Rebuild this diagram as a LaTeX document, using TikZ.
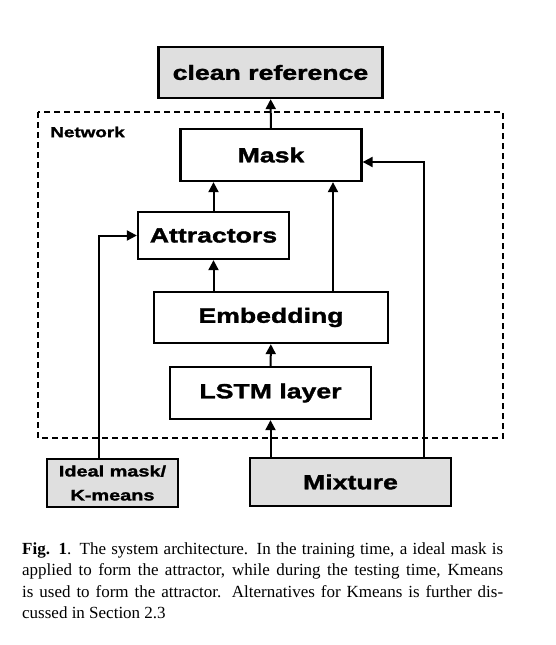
\documentclass[tikz,border=0pt]{standalone}
\usepackage{fontspec}
\setmainfont{Liberation Serif}
\newfontfamily\blockfont[FakeStretch=1.3,FakeBold=1.6]{Liberation Sans}
\usetikzlibrary{arrows.meta}

\begin{document}
\begin{tikzpicture}[x=1pt,y=-1pt,
  block/.style={draw=black, line width=2.3pt, fill=white, inner sep=0pt,
    font=\blockfont\bfseries\fontsize{20.5}{24}\selectfont},
  io/.style={block, fill=gray!25},
  arr/.style={line width=2pt, -{Triangle[length=10pt,width=10pt]}}]

\useasboundingbox (0,0) rectangle (555,645);

% Network frame
\draw[line width=2pt, dash pattern=on 6pt off 4pt] (38,112) rectangle (503,438);
\node[font=\blockfont\bfseries\fontsize{14.5}{17}\selectfont] (net) at (87.5,132) {Network};

% Blocks
\node[io, minimum width=224pt, minimum height=51pt] (ref) at (270.5,72.5) {clean reference};
\node[block, minimum width=181pt, minimum height=52pt] (mask) at (271,155) {Mask};
\node[block, minimum width=151pt, minimum height=47pt] (attr) at (213.5,235.5) {Attractors};
\node[block, minimum width=234pt, minimum height=51pt] (emb) at (271,317.5) {Embedding};
\node[block, minimum width=201pt, minimum height=52pt] (lstm) at (270.5,393) {LSTM layer};

% Inputs
\node[io, minimum width=131pt, minimum height=48pt, align=center,
  font=\blockfont\bfseries\fontsize{15.3}{24}\selectfont] (ideal) at (112.5,483) {Ideal mask/\\K-means};
\node[io, minimum width=201pt, minimum height=48pt] (mix) at (350.5,482) {Mixture};

% Connections
\draw[arr] (mask) -- (ref);
\draw[arr] (attr) -- (attr.north |- mask.south);
\draw[arr] (emb.north -| attr) -- (attr.south);
\draw[arr] ([xshift=62pt]emb.north) -- ([xshift=62pt]mask.south);
\draw[arr] (lstm) -- (emb);
\draw[arr] (mix.north -| lstm) -- (lstm.south);
\draw[arr] ([xshift=-28pt]mix.north east) |- ([yshift=-7pt]mask.east);
\draw[arr] ([xshift=-13.5pt]ideal.north) |- (attr.west);

% Caption
\node[anchor=north west, text width=481pt, align=justify, inner sep=0pt,
  font=\fontsize{17}{21.5}\selectfont] (cap) at (22,542)
  {\textbf{Fig. 1}. The system architecture. In the training time, a ideal mask is\linebreak
   applied to form the attractor, while during the testing time, Kmeans\linebreak
   is used to form the attractor. Alternatives for Kmeans is further dis-\linebreak
   cussed in Section 2.3};

\end{tikzpicture}
\end{document}
